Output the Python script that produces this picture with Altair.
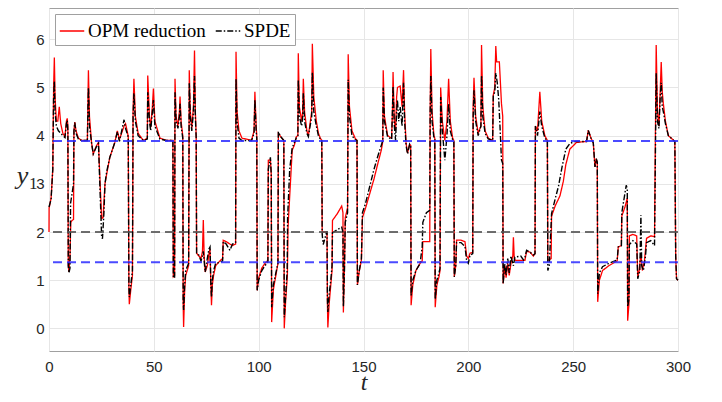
import altair as alt
import pandas as pd

# OPM reduction (red, solid): (t, y1)
opm_points = [
    (0.0, 2.0), (0.05, 2.5), (1.0, 2.7), (1.8, 3.3), (2.2, 5.0), (2.55, 5.62), (2.9, 4.8), (3.5, 4.3),
    (4.2, 4.3), (4.9, 4.6), (5.6, 4.25), (6.6, 4.05), (7.6, 3.98), (8.3, 4.3), (8.7, 4.36), (9.0, 4.2),
    (9.2, 1.3), (9.5, 1.17), (10.0, 1.5), (10.4, 2.2), (11.0, 2.24), (11.7, 2.26), (11.9, 4.1), (12.3, 4.28),
    (12.9, 4.1), (14.0, 3.95), (15.6, 3.9), (18.3, 3.9), (18.6, 4.8), (18.8, 5.36), (19.3, 4.4), (20.3, 3.85),
    (21.1, 3.62), (22.5, 3.78), (23.6, 3.86), (24.0, 3.4), (25.1, 2.28), (25.8, 2.3), (26.7, 3.0), (27.5, 3.2),
    (29.0, 3.55), (31.4, 3.86), (32.6, 4.1), (33.6, 3.92), (35.8, 4.2), (36.5, 4.25), (37.8, 3.99), (38.1, 0.9),
    (38.3, 0.5), (39.0, 0.8), (39.8, 1.1), (40.1, 4.5), (40.5, 5.18), (41.2, 4.4), (42.5, 4.05), (45.0, 3.9),
    (46.9, 3.95), (47.1, 5.25), (47.9, 4.4), (48.5, 4.17), (49.3, 4.6), (49.8, 4.98), (50.5, 4.3), (52.9, 3.95),
    (56.0, 3.9), (59.1, 3.9), (59.3, 1.07), (59.9, 1.1), (60.1, 5.18), (60.6, 4.4), (61.5, 4.2), (62.2, 4.5),
    (62.5, 4.81), (63.0, 4.3), (63.8, 4.0), (64.0, 0.5), (64.2, 0.03), (64.7, 0.8), (65.2, 1.1), (66.6, 1.3),
    (66.9, 5.36), (67.4, 4.5), (68.1, 4.15), (68.9, 4.6), (69.4, 5.77), (69.8, 4.5), (70.2, 4.0), (70.4, 1.56),
    (71.5, 1.5), (72.5, 1.45), (73.2, 1.6), (73.6, 2.25), (74.0, 1.5), (74.5, 1.17), (75.5, 1.3), (76.3, 1.55),
    (76.8, 1.65), (77.2, 0.9), (77.5, 0.48), (77.9, 0.9), (78.5, 1.1), (79.5, 1.3), (81.5, 1.4), (82.8, 1.45),
    (83.1, 1.83), (84.5, 1.8), (86.3, 1.75), (87.5, 1.72), (89.0, 1.75), (89.2, 5.74), (89.7, 4.5), (90.6, 4.1),
    (92.0, 3.95), (96.6, 3.9), (97.8, 4.1), (98.2, 4.91), (98.8, 4.2), (99.1, 4.0), (99.3, 0.79), (100.0, 1.05),
    (101.5, 1.25), (103.0, 1.35), (104.4, 1.41), (104.6, 3.49), (105.6, 3.5), (106.0, 3.2), (106.2, 0.13),
    (107.0, 0.8), (108.2, 1.1), (109.2, 1.35), (109.4, 4.05), (110.5, 3.98), (112.0, 3.9), (112.2, 0.0),
    (112.9, 0.6), (113.7, 1.1), (114.0, 2.1), (115.0, 2.9), (116.0, 3.7), (117.0, 3.8), (118.0, 3.98),
    (118.7, 4.0), (118.9, 5.71), (119.4, 4.6), (120.5, 4.3), (121.0, 4.5), (121.3, 5.18), (121.9, 4.5),
    (123.0, 4.1), (123.7, 4.0), (125.3, 4.5), (125.6, 5.91), (126.3, 4.8), (127.5, 4.3), (128.5, 4.05),
    (129.4, 3.95), (130.1, 3.9), (130.3, 2.0), (132.6, 2.0), (132.8, 0.5), (133.0, 0.02), (133.6, 0.5),
    (134.4, 0.9), (135.0, 1.2), (135.2, 2.24), (137.5, 2.38), (139.6, 2.54), (140.2, 2.4), (140.4, 0.33),
    (140.9, 1.2), (141.3, 2.3), (142.4, 2.5), (142.7, 5.69), (143.3, 4.6), (144.5, 4.1), (146.0, 3.95),
    (146.9, 3.9), (147.1, 0.9), (148.0, 1.2), (149.0, 1.41), (149.5, 2.3), (151.0, 2.5), (153.0, 2.8),
    (155.0, 3.1), (157.0, 3.45), (158.5, 3.7), (159.2, 3.88), (159.4, 5.36), (160.0, 4.4), (161.5, 4.0),
    (163.4, 3.95), (163.8, 4.5), (164.1, 5.32), (164.7, 4.3), (165.3, 4.12), (165.8, 4.8), (166.2, 5.0),
    (167.5, 5.03), (168.4, 4.6), (169.1, 5.36), (169.6, 4.5), (170.3, 3.85), (171.0, 3.64), (172.0, 3.82),
    (172.5, 3.8), (172.7, 0.48), (173.5, 0.9), (175.0, 1.2), (177.0, 1.35), (178.0, 1.4), (178.3, 1.8),
    (181.6, 1.8), (181.8, 4.5), (182.1, 5.8), (182.7, 4.5), (183.6, 4.0), (184.0, 3.95), (184.2, 0.44),
    (185.0, 0.9), (186.0, 1.07), (186.5, 1.2), (186.8, 5.0), (187.6, 4.3), (188.8, 3.9), (189.8, 4.3),
    (190.6, 5.18), (191.4, 4.3), (192.5, 3.95), (193.1, 3.9), (193.3, 1.07), (194.0, 1.3), (194.4, 1.83),
    (196.5, 1.83), (198.4, 1.8), (199.2, 1.5), (200.0, 1.45), (200.8, 1.56), (202.1, 1.58), (202.3, 4.6),
    (202.7, 5.2), (203.5, 4.4), (204.7, 4.05), (206.0, 4.2), (206.3, 5.88), (206.9, 4.6), (208.0, 4.1),
    (209.5, 3.95), (211.6, 3.9), (211.9, 4.84), (212.6, 5.0), (213.1, 5.86), (213.5, 5.53), (214.8, 5.53),
    (215.8, 4.67), (216.4, 4.4), (216.6, 0.93), (217.5, 1.3), (218.0, 1.05), (218.8, 1.35), (219.5, 1.1),
    (220.5, 1.4), (221.2, 1.5), (221.5, 1.89), (221.9, 1.45), (222.5, 1.41), (227.0, 1.41), (227.8, 1.6),
    (229.5, 1.58), (231.0, 1.5), (231.8, 1.55), (232.0, 4.2), (233.0, 4.1), (234.1, 4.91), (235.0, 4.3),
    (236.5, 4.0), (237.7, 3.9), (237.9, 1.41), (239.5, 1.45), (239.7, 2.33), (241.5, 2.55), (243.7, 2.75),
    (245.3, 3.05), (246.5, 3.4), (248.4, 3.72), (251.6, 3.86), (256.4, 3.88), (257.2, 4.11), (258.5, 3.95),
    (259.6, 3.85), (260.4, 3.35), (261.0, 3.52), (261.5, 3.45), (261.7, 0.55), (262.5, 1.0), (264.0, 1.2),
    (267.0, 1.3), (271.0, 1.4), (271.5, 1.69), (273.0, 1.72), (273.2, 2.33), (274.7, 2.52), (275.8, 2.7),
    (276.0, 0.16), (276.6, 0.5), (276.8, 1.92), (278.5, 1.95), (280.3, 1.92), (280.8, 1.07), (281.5, 1.2),
    (282.3, 1.56), (283.0, 1.2), (284.0, 1.4), (285.0, 1.87), (287.0, 1.92), (288.8, 1.9), (289.6, 5.88),
    (290.2, 4.5), (290.9, 4.2), (291.5, 4.9), (292.0, 5.53), (292.5, 4.9), (293.0, 4.67), (294.0, 4.3),
    (295.4, 4.0), (297.5, 3.92), (298.5, 3.88), (298.9, 1.5), (299.3, 1.03), (300.0, 1.0),
]

# SPDE (black, dash-dot): (t, y1)
spde_points = [
    (0.0, 2.52), (1.0, 2.68), (1.8, 3.3), (2.2, 4.8), (2.55, 5.13), (2.9, 4.5), (3.5, 4.2), (4.5, 4.1),
    (5.6, 4.05), (6.6, 4.0), (7.6, 3.96), (8.3, 4.25), (8.7, 4.32), (9.0, 4.1), (9.2, 1.3), (9.5, 1.15),
    (10.0, 1.25), (10.3, 2.6), (11.0, 2.8), (11.7, 3.0), (11.9, 4.1), (12.3, 4.27), (12.9, 4.05), (14.0, 3.93),
    (15.6, 3.9), (18.3, 3.9), (18.6, 4.6), (18.8, 5.0), (19.3, 4.2), (20.3, 3.85), (21.1, 3.62), (22.5, 3.76),
    (23.6, 3.84), (24.0, 3.3), (25.1, 1.9), (25.5, 1.86), (26.2, 2.4), (26.7, 3.0), (27.5, 3.25), (29.0, 3.55),
    (31.4, 3.86), (32.6, 4.08), (33.6, 3.88), (35.8, 4.33), (36.5, 4.15), (37.8, 3.97), (38.1, 0.9), (38.3, 0.65),
    (39.0, 0.9), (39.8, 1.2), (40.1, 4.4), (40.5, 4.88), (41.2, 4.3), (42.5, 4.0), (45.0, 3.9), (46.9, 3.93),
    (47.1, 4.9), (47.9, 4.3), (48.5, 4.1), (49.3, 4.5), (49.8, 4.74), (50.5, 4.2), (52.9, 3.93), (56.0, 3.9),
    (59.1, 3.9), (59.3, 1.05), (59.9, 1.05), (60.1, 4.9), (60.6, 4.3), (61.5, 4.15), (62.2, 4.4), (62.5, 4.66),
    (63.0, 4.2), (63.8, 3.95), (64.0, 0.6), (64.2, 0.38), (64.7, 0.9), (65.2, 1.2), (66.6, 1.35), (66.9, 5.09),
    (67.4, 4.4), (68.1, 4.1), (68.9, 4.5), (69.4, 5.24), (69.8, 4.4), (70.2, 3.95), (70.4, 1.56), (71.5, 1.52),
    (72.5, 1.4), (73.2, 1.5), (73.6, 1.6), (74.0, 1.4), (74.5, 1.17), (75.5, 1.45), (76.3, 1.65), (76.8, 1.69),
    (77.2, 0.9), (77.5, 0.65), (77.9, 1.0), (78.5, 1.2), (79.5, 1.35), (81.5, 1.37), (82.8, 1.4), (83.1, 1.8),
    (84.5, 1.75), (86.3, 1.62), (87.5, 1.75), (89.0, 1.78), (89.2, 5.18), (89.7, 4.3), (90.6, 3.95), (92.0, 3.9),
    (96.6, 3.9), (97.8, 4.05), (98.2, 4.74), (98.8, 4.1), (99.1, 3.95), (99.3, 0.79), (100.0, 1.0), (101.5, 1.2),
    (103.0, 1.3), (104.4, 1.38), (104.6, 3.3), (105.6, 3.55), (106.0, 3.2), (106.2, 0.44), (107.0, 0.9),
    (108.2, 1.15), (109.2, 1.35), (109.4, 4.08), (110.5, 3.98), (112.0, 3.9), (112.2, 0.23), (112.9, 0.7),
    (113.6, 1.2), (113.8, 2.3), (114.8, 3.3), (116.0, 3.75), (117.0, 3.85), (118.0, 3.96), (118.7, 4.0),
    (118.9, 5.16), (119.4, 4.4), (120.5, 4.2), (121.0, 4.4), (121.3, 4.88), (121.9, 4.3), (123.0, 4.05),
    (123.7, 3.98), (125.3, 4.4), (125.6, 5.32), (126.3, 4.5), (127.5, 4.2), (128.5, 4.0), (129.4, 3.93),
    (130.1, 3.9), (130.3, 1.95), (130.8, 1.74), (131.5, 1.85), (132.4, 2.0), (132.6, 2.0), (132.8, 0.6),
    (133.0, 0.34), (133.6, 0.7), (134.4, 1.0), (135.0, 1.3), (135.2, 1.98), (137.5, 2.05), (139.6, 2.1),
    (140.2, 2.0), (140.4, 0.45), (140.9, 1.2), (141.3, 2.2), (142.4, 2.4), (142.7, 5.16), (143.3, 4.4),
    (144.5, 4.0), (146.0, 3.92), (146.9, 3.9), (147.1, 0.9), (148.0, 1.2), (149.0, 1.45), (149.5, 2.4),
    (151.0, 2.6), (153.0, 2.95), (155.0, 3.3), (157.0, 3.6), (158.5, 3.8), (159.2, 3.9), (159.4, 5.0),
    (160.0, 4.3), (161.5, 3.98), (163.4, 3.92), (163.8, 4.5), (164.1, 5.03), (164.7, 4.2), (165.3, 3.9),
    (165.8, 4.5), (166.2, 4.74), (166.8, 4.3), (167.5, 4.6), (168.4, 4.2), (169.1, 5.1), (169.6, 4.3),
    (170.3, 3.8), (171.0, 3.62), (172.0, 3.82), (172.5, 3.78), (172.7, 0.68), (173.5, 1.0), (175.0, 1.2),
    (177.0, 1.35), (178.0, 1.7), (178.3, 2.2), (180.0, 2.4), (181.6, 2.45), (181.8, 4.5), (182.1, 5.24),
    (182.7, 4.3), (183.6, 3.95), (184.0, 3.92), (184.2, 0.6), (185.0, 1.0), (186.0, 1.15), (186.5, 1.25),
    (186.8, 4.8), (187.6, 4.1), (188.8, 3.49), (189.8, 4.0), (190.6, 4.66), (191.4, 4.1), (192.5, 3.92),
    (193.1, 3.9), (193.3, 1.07), (194.0, 1.3), (194.4, 1.78), (196.5, 1.78), (198.4, 1.7), (199.2, 1.4),
    (200.0, 1.35), (200.8, 1.52), (202.1, 1.55), (202.3, 4.4), (202.7, 4.94), (203.5, 4.3), (204.7, 4.0),
    (206.0, 4.2), (206.3, 5.25), (206.9, 4.4), (208.0, 4.05), (209.5, 3.93), (211.6, 3.9), (211.9, 4.84),
    (212.6, 4.9), (213.1, 5.3), (213.8, 5.1), (214.5, 4.74), (215.2, 4.1), (215.8, 3.5), (216.4, 3.42),
    (216.6, 0.93), (217.3, 1.35), (218.0, 1.1), (218.8, 1.45), (219.5, 1.15), (220.3, 1.5), (221.5, 1.3),
    (222.2, 1.48), (225.0, 1.5), (226.3, 1.42), (227.0, 1.48), (227.8, 1.62), (229.5, 1.58), (231.0, 1.52),
    (231.8, 1.55), (232.0, 4.2), (233.0, 4.0), (234.1, 4.5), (235.0, 4.2), (236.5, 3.95), (237.7, 3.9),
    (237.9, 1.2), (238.6, 1.3), (239.7, 2.38), (241.5, 2.7), (243.0, 2.95), (244.7, 3.35), (246.5, 3.72),
    (248.5, 3.84), (251.0, 3.88), (256.4, 3.88), (257.2, 4.11), (258.5, 3.95), (259.6, 3.85), (260.4, 3.35),
    (261.0, 3.52), (261.5, 3.45), (261.7, 0.72), (262.5, 1.15), (264.0, 1.28), (267.0, 1.35), (271.0, 1.42),
    (271.5, 1.69), (273.0, 1.72), (273.2, 2.4), (275.3, 2.97), (275.8, 2.9), (276.0, 0.45), (276.6, 0.6),
    (276.8, 1.74), (278.5, 1.82), (280.3, 1.75), (280.8, 1.03), (281.8, 1.2), (282.3, 2.35), (282.7, 1.3),
    (283.5, 1.2), (284.5, 1.5), (285.0, 1.78), (287.0, 1.82), (288.8, 1.72), (289.6, 5.3), (290.2, 4.3),
    (290.9, 4.15), (291.5, 4.8), (292.0, 5.1), (292.5, 4.6), (293.0, 4.5), (294.0, 4.25), (295.4, 4.0),
    (297.5, 3.92), (298.5, 3.88), (298.9, 1.5), (299.3, 1.03), (300.0, 1.0),
]

series_names = ["OPM reduction", "SPDE"]
series_colors = ["#ff0000", "#000000"]

# horizontal reference lines
upper_level = 3.89
mid_level = 2.0
lower_level = 1.37

x_ticks = [0, 50, 100, 150, 200, 250, 300]
y_ticks = [0, 1, 2, 3, 4, 5, 6]

rows = []
for i, (t, y) in enumerate(opm_points):
    rows.append({"t": t, "y": y, "series": series_names[0], "i": i})
for i, (t, y) in enumerate(spde_points):
    rows.append({"t": t, "y": y, "series": series_names[1], "i": i})
df = pd.DataFrame(rows)

x_enc = alt.X(
    "t:Q",
    scale=alt.Scale(domain=[0, 300], nice=False, zero=False),
    axis=alt.Axis(
        values=x_ticks, title="t", grid=True, ticks=False, tickSize=0, domain=False,
        labelFlush=False,
        labelFont="Liberation Sans", labelFontSize=15, labelColor="#262626", labelPadding=8,
        titleFont="Liberation Serif", titleFontStyle="italic", titleFontWeight="normal",
        titleFontSize=24, titleColor="#262626", titleY=38, titleBaseline="alphabetic",
    ),
)
y_enc = alt.Y(
    "y:Q",
    scale=alt.Scale(domain=[-0.47, 6.65], nice=False, zero=False),
    axis=alt.Axis(
        values=y_ticks, title="y", grid=True, ticks=False, tickSize=0, domain=False,
        labelFlush=False,
        labelFont="Liberation Sans", labelFontSize=15, labelColor="#262626", labelPadding=5,
        titleFont="Liberation Serif", titleFontStyle="italic", titleFontWeight="normal",
        titleFontSize=26, titleColor="#262626", titleAngle=0, titleX=-27, titleY=175,
        titleAlign="center", titleBaseline="alphabetic",
    ),
)

color_enc = alt.Color(
    "series:N",
    scale=alt.Scale(domain=series_names, range=series_colors),
    legend=alt.Legend(title=None, orient="top-left", direction="horizontal"),
)
dash_enc = alt.StrokeDash(
    "series:N",
    scale=alt.Scale(domain=series_names, range=[[1, 0], [6, 2, 1.5, 2]]),
    legend=alt.Legend(title=None, orient="top-left", direction="horizontal"),
)

base = alt.Chart(df)
opm_line = base.transform_filter(alt.datum.series == series_names[0]).mark_line(
    strokeWidth=1.3
).encode(x=x_enc, y=y_enc, color=color_enc, strokeDash=dash_enc, order="i:Q")
spde_line = base.transform_filter(alt.datum.series == series_names[1]).mark_line(
    strokeWidth=1.4
).encode(x=x_enc, y=y_enc, color=color_enc, strokeDash=dash_enc, order="i:Q")

def level_rule(value, colour):
    return alt.Chart(pd.DataFrame({"y": [value]})).mark_rule(
        color=colour, strokeWidth=2, strokeDash=[9, 5], opacity=0.85
    ).encode(y=y_enc)

# subscript "1" of the y-axis label
subscript = alt.Chart(pd.DataFrame({"s": ["1"]})).mark_text(
    font="Liberation Serif", fontSize=17, align="left", baseline="alphabetic", color="#262626"
).encode(x=alt.value(-20), y=alt.value(181), text="s:N")

chart = alt.layer(
    opm_line,
    spde_line,
    level_rule(upper_level, "#2a2aff"),
    level_rule(mid_level, "#555555"),
    level_rule(lower_level, "#2a2aff"),
    subscript,
).properties(
    width=629, height=343,
    autosize=alt.AutoSizeParams(type="none"),
    padding={"left": 41, "top": 0, "right": 30, "bottom": 43},
).configure_view(
    stroke="#a0a0a0", strokeWidth=1
).configure_axis(
    gridColor="#e6e6e6", gridWidth=1
).configure_legend(
    offset=6, padding=4, fillColor="white", strokeColor="#a0a0a0",
    labelFont="Liberation Serif", labelFontSize=19, labelColor="#000000",
    symbolType="stroke", symbolSize=600, symbolStrokeWidth=1.5,
    labelOffset=3, columnPadding=6,
)

chart.save("out.html", embed_options={"renderer": "svg", "actions": False})
